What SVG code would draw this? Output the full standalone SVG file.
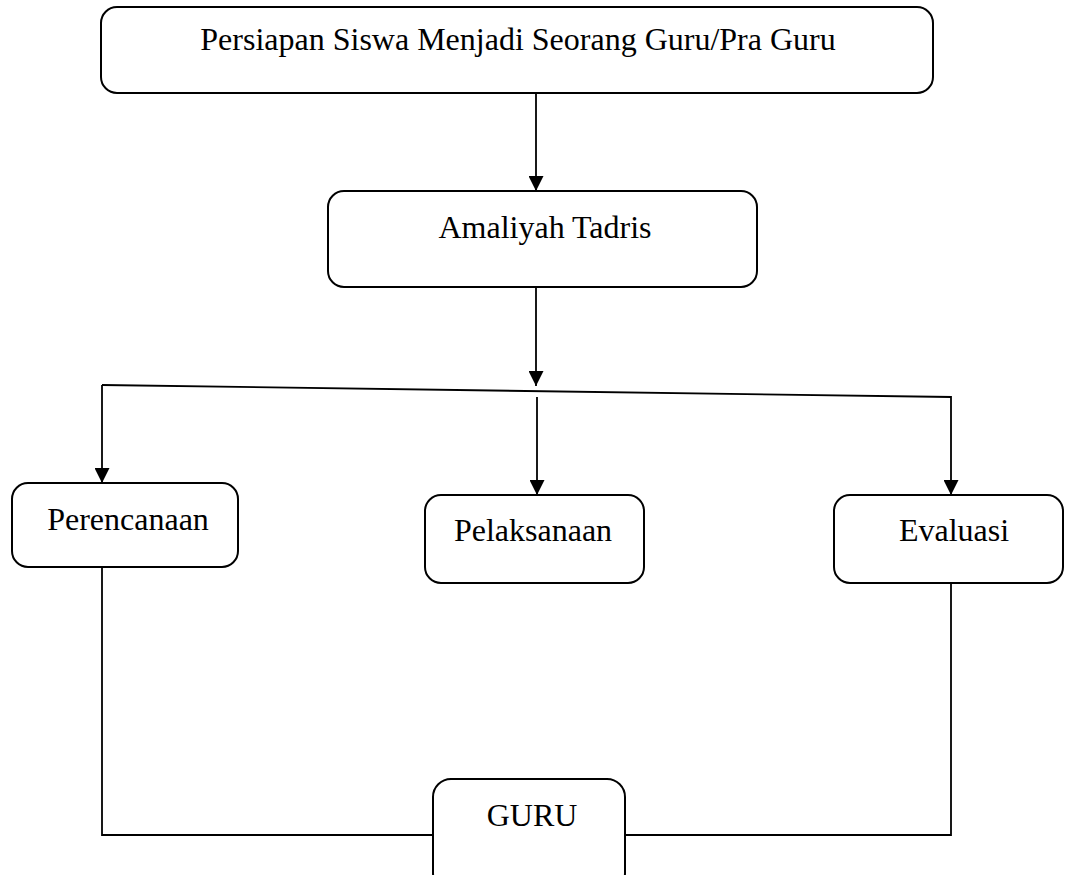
<svg xmlns="http://www.w3.org/2000/svg" width="1065" height="875" viewBox="0 0 1065 875">
<style>
.box{fill:#fff;stroke:#000;stroke-width:2}
.lbl{font-family:"Liberation Serif","Times New Roman",serif;font-size:32px;fill:#000;text-anchor:middle}
.ln{fill:none;stroke:#000;stroke-width:1.8}
</style>
<defs>
<marker id="ah" markerWidth="15" markerHeight="15" refX="15" refY="7.5" orient="auto" markerUnits="userSpaceOnUse" viewBox="0 0 15 15">
<path d="M0,0 L15,7.5 L0,15 Z" fill="#000"/>
</marker>
</defs>
<rect width="1065" height="875" fill="#fff"/>
<g id="connectors">
<line class="ln" x1="536" y1="93" x2="536" y2="191" marker-end="url(#ah)"/>
<line class="ln" x1="536" y1="287" x2="536" y2="386" marker-end="url(#ah)"/>
<polyline class="ln" points="102,385 951,397 951,495" marker-end="url(#ah)"/>
<line class="ln" x1="102" y1="385" x2="102" y2="483" marker-end="url(#ah)"/>
<line class="ln" x1="537" y1="397" x2="537" y2="495" marker-end="url(#ah)"/>
<polyline class="ln" points="102,567 102,835 433,835"/>
<polyline class="ln" points="951,583 951,835 625,835"/>
</g>
<g id="node-persiapan">
<rect class="box" x="101" y="7" width="832" height="86" rx="16"/>
<text class="lbl" x="518" y="50">Persiapan Siswa Menjadi Seorang Guru/Pra Guru</text>
</g>
<g id="node-amaliyah">
<rect class="box" x="328" y="191" width="429" height="96" rx="16"/>
<text class="lbl" x="545" y="238">Amaliyah Tadris</text>
</g>
<g id="node-perencanaan">
<rect class="box" x="12" y="483" width="226" height="84" rx="16"/>
<text class="lbl" x="128" y="530">Perencanaan</text>
</g>
<g id="node-pelaksanaan">
<rect class="box" x="425" y="495" width="219" height="88" rx="16"/>
<text class="lbl" x="533" y="541">Pelaksanaan</text>
</g>
<g id="node-evaluasi">
<rect class="box" x="834" y="495" width="229" height="88" rx="16"/>
<text class="lbl" x="954" y="541">Evaluasi</text>
</g>
<g id="node-guru">
<rect class="box" x="433" y="779" width="192" height="112" rx="18"/>
<text class="lbl" x="532" y="826">GURU</text>
</g>
</svg>
